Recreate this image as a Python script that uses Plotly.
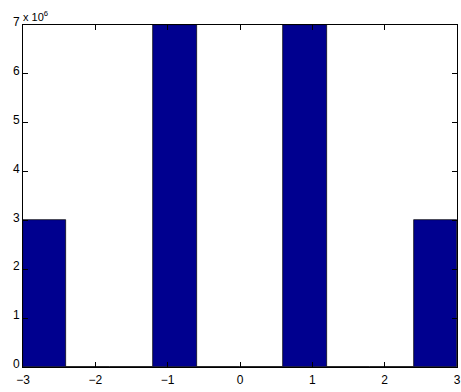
import plotly.graph_objects as go

bin_centers = [-2.7, -2.1, -1.5, -0.9, -0.3, 0.3, 0.9, 1.5, 2.1, 2.7]
counts = [3e6, 0, 0, 7e6, 0, 0, 7e6, 0, 0, 3e6]
x_ticks = [-3, -2, -1, 0, 1, 2, 3]
x_tick_labels = ["\u22123", "\u22122", "\u22121", "0", "1", "2", "3"]
y_ticks = [0, 1e6, 2e6, 3e6, 4e6, 5e6, 6e6, 7e6]
y_tick_labels = ["0", "1", "2", "3", "4", "5", "6", "7"]

fig = go.Figure(go.Bar(
    x=bin_centers, y=counts, width=0.6,
    marker=dict(color="#00008F", line=dict(color="black", width=0.7)),
))

axis_common = dict(
    showline=True, linecolor="black", linewidth=1, mirror="ticks",
    ticks="inside", ticklen=5, tickcolor="black", showgrid=False, zeroline=False,
    automargin=False,
    tickfont=dict(family="Liberation Sans, Arial", size=12, color="black"),
)
fig.update_xaxes(range=[-3, 3], tickvals=x_ticks, ticktext=x_tick_labels,
                 ticklabelstandoff=2, **axis_common)
fig.update_yaxes(range=[0, 7e6], tickvals=y_ticks, ticktext=y_tick_labels,
                 ticklabelshift=-3, **axis_common)

fig.add_annotation(
    xref="paper", yref="paper", x=0, y=1, xanchor="left", yanchor="bottom",
    text="x 10<sup>6</sup>", showarrow=False, xshift=-2, yshift=0,
    font=dict(family="Liberation Sans, Arial", size=11, color="black"),
)

fig.update_layout(
    width=461, height=392, plot_bgcolor="white", paper_bgcolor="white",
    margin=dict(l=23, r=4, t=25, b=25), showlegend=False, bargap=0,
)
fig.write_html(
    "out.html",
    config={"displayModeBar": False},
    post_script="document.body.style.margin='0';document.body.style.overflow='hidden';",
)
